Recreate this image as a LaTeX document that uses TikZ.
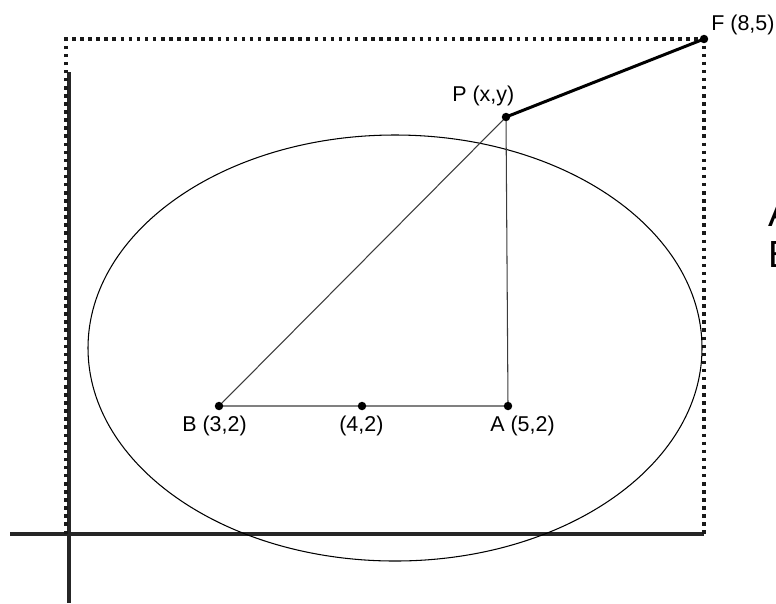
\documentclass[tikz,border=0pt]{standalone}
\usepackage{fontspec}
\setmainfont{Liberation Sans}
\usepackage{tikz}
\usetikzlibrary{positioning,calc}
\definecolor{LineGray}{RGB}{60,60,60}
\tikzset{
	pt/.style={circle,fill=black,inner sep=0pt,minimum size=8.5pt*0.567},
	axis/.style={draw=black!85,line width=1.9pt},
	guide/.style={draw=black!90,line width=2pt,dash pattern=on 2pt off 2.6pt},
	chord/.style={draw=LineGray,line width=0.6pt},
	lbl/.style={font=\fontsize{12.2}{14}\selectfont,inner sep=0pt,anchor=base west},
	big/.style={font=\fontsize{21.5}{24}\selectfont,inner sep=0pt,anchor=base west},
}

\begin{document}
\begin{tikzpicture}[x=0.02cm,y=-0.02cm]
	\clip (0,0) rectangle (776,603);
	\fill[white] (0,0) rectangle (776,603);
	% axes and the dotted box up to F
	\draw[axis] (10,534)--(704,534);
	\draw[axis] (69,72)--(69,603);
	\draw[guide] (66,534)--(66,39)--(704,39)--(704,534);
	% the ellipse
	\draw[line width=0.6pt] (395,348) ellipse [x radius=307,y radius=213];
	% points
	\coordinate (F) at (704,39);
	\coordinate (P) at (506,117);
	\coordinate (B) at (219,406);
	\coordinate (M) at (362,406);
	\coordinate (A) at (508,406);
	\draw[chord] (B)--(P)--(A)--(B);
	\draw[line width=1.7pt] (P)--(F);
	\foreach \p in {F,P,B,M,A}
	\node[pt] at (\p) {};
	\node[lbl] at (711,30) {F (8,5)};
	\node[lbl] at (452,101) {P (x,y)};
	\node[lbl] at (182,431) {B (3,2)};
	\node[lbl] at (339,431) {(4,2)};
	\node[lbl] at (490,431) {A (5,2)};
	\node[big] at (768,226) {A};
	\node[big] at (768,267) {E};
\end{tikzpicture}
\end{document}
